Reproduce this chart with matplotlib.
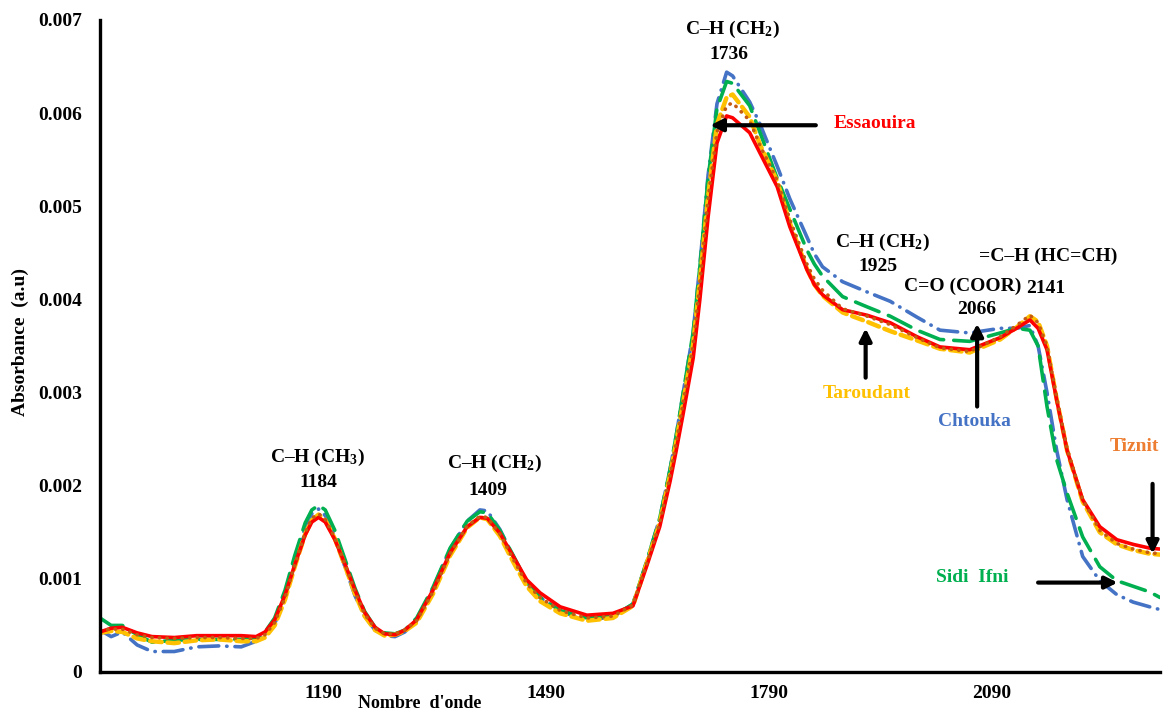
import matplotlib.pyplot as plt

plt.rcParams['font.family'] = ['Liberation Serif', 'DejaVu Serif']
plt.rcParams['font.weight'] = 'bold'
plt.rcParams['mathtext.fontset'] = 'custom'
plt.rcParams['mathtext.rm'] = 'Liberation Serif:bold'
plt.rcParams['mathtext.it'] = 'Liberation Serif:bold'
plt.rcParams['mathtext.bf'] = 'Liberation Serif:bold'

# wavenumber grid shared by all spectra
wavenumber = [890, 905, 920, 940, 960, 990, 1020, 1050, 1080, 1100, 1112, 1125, 1139, 1152,
              1166, 1175, 1184, 1193, 1206, 1220, 1233, 1246, 1260, 1273, 1287, 1300, 1316,
              1338, 1361, 1384, 1401, 1411, 1428, 1446, 1464, 1482, 1509, 1545, 1580, 1607,
              1626, 1643, 1657, 1665, 1674, 1688, 1697, 1708, 1720, 1733, 1741, 1764, 1778,
              1801, 1818, 1841, 1851, 1862, 1889, 1922, 1953, 1989, 2020, 2060, 2101, 2123,
              2141, 2152, 2164, 2177, 2191, 2212, 2235, 2258, 2280, 2302, 2316]

essaouira = [0.00043, 0.00047, 0.00048, 0.00042, 0.00038, 0.00037, 0.00039, 0.00039, 0.00039,
             0.00038, 0.00043, 0.00056, 0.00083, 0.00115, 0.00147, 0.00161, 0.00166, 0.00161,
             0.00142, 0.00115, 0.00088, 0.00064, 0.00048, 0.00041, 0.00040, 0.00045, 0.00056,
             0.00088, 0.00128, 0.00156, 0.00166, 0.00165, 0.00149, 0.00124, 0.00099, 0.00085,
             0.00070, 0.00061, 0.00063, 0.00071, 0.00115, 0.00156, 0.00205, 0.00237, 0.00275,
             0.00337, 0.00400, 0.00488, 0.00568, 0.00597, 0.00595, 0.00579, 0.00557, 0.00521,
             0.00478, 0.00432, 0.00416, 0.00405, 0.00389, 0.00383, 0.00375, 0.00360, 0.00349,
             0.00346, 0.00359, 0.00369, 0.00378, 0.00369, 0.00346, 0.00292, 0.00238, 0.00185,
             0.00156, 0.00142, 0.00137, 0.00133, 0.00132]

tiznit = [0.00045, 0.00046, 0.00046, 0.00040, 0.00037, 0.00036, 0.00037, 0.00037, 0.00036,
          0.00036, 0.00040, 0.00053, 0.00080, 0.00115, 0.00150, 0.00165, 0.00170, 0.00164,
          0.00144, 0.00115, 0.00086, 0.00062, 0.00047, 0.00041, 0.00041, 0.00045, 0.00055,
          0.00086, 0.00127, 0.00157, 0.00167, 0.00166, 0.00148, 0.00121, 0.00095, 0.00080,
          0.00066, 0.00058, 0.00060, 0.00072, 0.00118, 0.00160, 0.00212, 0.00246, 0.00287,
          0.00352, 0.00418, 0.00508, 0.00580, 0.00608, 0.00611, 0.00592, 0.00565, 0.00528,
          0.00486, 0.00438, 0.00422, 0.00410, 0.00390, 0.00382, 0.00373, 0.00359, 0.00348,
          0.00344, 0.00360, 0.00372, 0.00383, 0.00375, 0.00350, 0.00295, 0.00240, 0.00185,
          0.00152, 0.00138, 0.00132, 0.00128, 0.00127]

taroudant = [0.00042, 0.00044, 0.00043, 0.00036, 0.00033, 0.00031, 0.00034, 0.00035, 0.00033,
             0.00033, 0.00037, 0.00050, 0.00078, 0.00113, 0.00148, 0.00163, 0.00169, 0.00163,
             0.00143, 0.00113, 0.00084, 0.00060, 0.00045, 0.00039, 0.00040, 0.00044, 0.00053,
             0.00084, 0.00125, 0.00155, 0.00166, 0.00164, 0.00146, 0.00118, 0.00092, 0.00076,
             0.00063, 0.00055, 0.00058, 0.00071, 0.00118, 0.00160, 0.00212, 0.00246, 0.00287,
             0.00352, 0.00420, 0.00510, 0.00588, 0.00617, 0.00620, 0.00596, 0.00566, 0.00527,
             0.00482, 0.00433, 0.00416, 0.00404, 0.00386, 0.00376, 0.00366, 0.00356, 0.00347,
             0.00343, 0.00357, 0.00370, 0.00382, 0.00376, 0.00350, 0.00293, 0.00238, 0.00183,
             0.00150, 0.00137, 0.00131, 0.00127, 0.00126]

chtouka = [0.00045, 0.00038, 0.00043, 0.00029, 0.00022, 0.00022, 0.00027, 0.00028, 0.00027,
           0.00033, 0.00040, 0.00052, 0.00080, 0.00118, 0.00155, 0.00170, 0.00175, 0.00168,
           0.00145, 0.00112, 0.00082, 0.00060, 0.00045, 0.00039, 0.00038, 0.00043, 0.00056,
           0.00090, 0.00132, 0.00162, 0.00174, 0.00173, 0.00153, 0.00124, 0.00096, 0.00080,
           0.00065, 0.00056, 0.00059, 0.00073, 0.00120, 0.00165, 0.00218, 0.00253, 0.00297,
           0.00365, 0.00437, 0.00533, 0.00610, 0.00644, 0.00640, 0.00612, 0.00588, 0.00543,
           0.00508, 0.00467, 0.00449, 0.00435, 0.00419, 0.00408, 0.00398, 0.00381, 0.00367,
           0.00364, 0.00369, 0.00369, 0.00372, 0.00350, 0.00300, 0.00238, 0.00185, 0.00124,
           0.00098, 0.00083, 0.00075, 0.00070, 0.00067]

sidi_ifni = [0.00058, 0.00050, 0.00050, 0.00040, 0.00032, 0.00034, 0.00035, 0.00035, 0.00035,
             0.00037, 0.00043, 0.00058, 0.00088, 0.00125, 0.00160, 0.00174, 0.00179, 0.00174,
             0.00152, 0.00120, 0.00090, 0.00065, 0.00048, 0.00042, 0.00041, 0.00045, 0.00058,
             0.00091, 0.00133, 0.00162, 0.00172, 0.00171, 0.00152, 0.00125, 0.00097, 0.00080,
             0.00066, 0.00058, 0.00060, 0.00073, 0.00120, 0.00165, 0.00218, 0.00253, 0.00297,
             0.00365, 0.00435, 0.00530, 0.00605, 0.00634, 0.00632, 0.00608, 0.00579, 0.00530,
             0.00497, 0.00453, 0.00438, 0.00425, 0.00403, 0.00392, 0.00382, 0.00367, 0.00357,
             0.00355, 0.00364, 0.00369, 0.00367, 0.00350, 0.00285, 0.00228, 0.00192, 0.00145,
             0.00113, 0.00098, 0.00092, 0.00086, 0.00080]

xticks = [1190, 1490, 1790, 2090]
yticks = [0, 0.001, 0.002, 0.003, 0.004, 0.005, 0.006, 0.007]

fig = plt.figure(figsize=(11.63, 7.10), dpi=100)
ax = fig.add_axes([100 / 1163, 38 / 710, 1060 / 1163, 652 / 710])

lw = 2.6
common = dict(lw=lw, solid_joinstyle='round', dash_joinstyle='round')
ax.plot(wavenumber, chtouka, color='#4472C4', dashes=(5.5, 2.2, 0.1, 2.2),
        dash_capstyle='round', **common)
ax.plot(wavenumber, sidi_ifni, color='#00B050', dashes=(7, 2.8), dash_capstyle='round',
        **common)
ax.plot(wavenumber, taroudant, color='#FFC000', dashes=(2.6, 1.3), dash_capstyle='round',
        **{**common, 'lw': lw + 0.6})
ax.plot(wavenumber, essaouira, color='#FF0000', solid_capstyle='round', **common)
ax.plot(wavenumber, tiznit, color='#C55A11', dashes=(0.1, 2.0), dash_capstyle='round',
        **common)

ax.set_xlim(890, 2316)
ax.set_ylim(0, 0.007)
ax.set_xticks(xticks)
ax.set_yticks(yticks)
ax.set_yticklabels(['0' if v == 0 else f'{v:.3f}' for v in yticks])
ax.tick_params(length=0, labelsize=14)
ax.tick_params(axis='y', pad=13)
ax.tick_params(axis='x', pad=9)
for side in ['top', 'right']:
    ax.spines[side].set_visible(False)
for side in ['left', 'bottom']:
    ax.spines[side].set_linewidth(2.4)

fig.text(420 / 1163, 1 - 703 / 710, "Nombre  d'onde", ha='center', va='center', fontsize=13)
fig.text(20 / 1163, 1 - 342 / 710, 'Absorbance  (a.u)', ha='center', va='center',
         rotation=90, fontsize=14)

# band assignments
fs = 14
bands = [
    (1183, 0.00230, 'C–H (CH$_3$)'), (1184, 0.00203, '1184'),
    (1421, 0.00224, 'C–H (CH$_2$)'), (1412, 0.00195, '1409'),
    (1741, 0.00690, 'C–H (CH$_2$)'), (1736, 0.00663, '1736'),
    (1943, 0.00461, 'C–H (CH$_2$)'), (1936, 0.00435, '1925'),
    (2051, 0.00414, 'C=O (COOR)'), (2070, 0.00389, '2066'),
    (2165, 0.00446, '=C–H (HC=CH)'), (2162, 0.00412, '2141'),
]
for x, y, s in bands:
    ax.text(x, y, s, ha='center', va='center', fontsize=fs)

arrow = dict(arrowstyle='-|>', color='black', lw=3, mutation_scale=18, shrinkA=0, shrinkB=0)

ax.text(1932, 0.00589, 'Essaouira', color='#FF0000', ha='center', va='center', fontsize=fs)
ax.annotate('', xy=(1711, 0.00587), xytext=(1853, 0.00587), arrowprops=arrow)

ax.text(1922, 0.00299, 'Taroudant', color='#FFC000', ha='center', va='center', fontsize=fs)
ax.annotate('', xy=(1920, 0.00369), xytext=(1920, 0.00316), arrowprops=arrow)

ax.text(2067, 0.00269, 'Chtouka', color='#4472C4', ha='center', va='center', fontsize=fs)
ax.annotate('', xy=(2070, 0.00374), xytext=(2070, 0.00285), arrowprops=arrow)

ax.text(2282, 0.00242, 'Tiznit', color='#ED7D31', ha='center', va='center', fontsize=fs)
ax.annotate('', xy=(2306, 0.00127), xytext=(2306, 0.00202), arrowprops=arrow)

ax.text(2064, 0.00101, 'Sidi  Ifni', color='#00B050', ha='center', va='center', fontsize=fs)
ax.annotate('', xy=(2259, 0.00096), xytext=(2152, 0.00096), arrowprops=arrow)

fig.savefig('out.png', dpi=100)
